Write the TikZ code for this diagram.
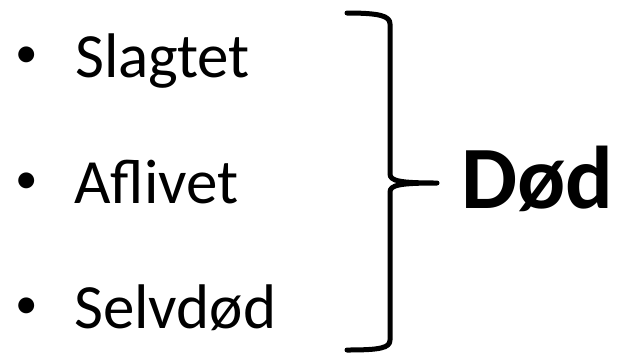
\documentclass[tikz,border=0pt]{standalone}
\usepackage{fontspec}
\setmainfont{Carlito}
\begin{document}
\begin{tikzpicture}[x=1pt,y=-1pt,
  item/.style={anchor=base west,inner sep=0pt,font=\fontsize{63}{72}\selectfont},
  bul/.style={anchor=base west,inner sep=0pt,font=\fontsize{45}{54}\selectfont},
  big/.style={anchor=base west,inner sep=0pt,font=\fontsize{89}{96}\selectfont\bfseries},
  brace/.style={line width=5pt,line cap=round,line join=round}]
\useasboundingbox (0,0) rectangle (623,357);
\node[bul] (b1) at (15,67) {•};
\node[bul] (b2) at (15,193) {•};
\node[bul] (b3) at (15,318) {•};
\node[item] (t1) at (75,77) {Slagtet};
\node[item] (t2) at (74,203) {Aflivet};
\node[item] (t3) at (74,328) {Selvdød};
\node[big] (d) at (461,208) {Død};
\coordinate (tip) at (437,183);
\draw[brace] (347,13) .. controls (380,13) and (390,16) .. (390,24)
  -- (390,174) .. controls (390,181) and (400,183) .. (tip)
  .. controls (400,183) and (390,185) .. (390,192)
  -- (390,340) .. controls (390,348) and (380,350) .. (347,350);
\end{tikzpicture}
\end{document}
